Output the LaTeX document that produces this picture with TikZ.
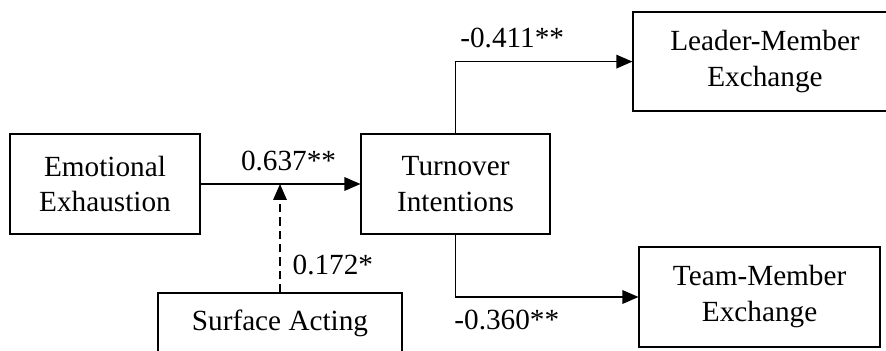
\documentclass[tikz,border=0pt]{standalone}
\usepackage{fontspec}
\setmainfont{Liberation Serif}
\usetikzlibrary{positioning}
\usetikzlibrary{arrows.meta}
\tikzset{
    varnode/.style = {rectangle, draw=black, line width=0.9pt, align=center, inner sep=0pt, minimum height=2.5cm, font=\fontsize{20.8}{25.6}\selectfont},
    coef/.style = {inner sep=0pt, font=\fontsize{20.8}{25.6}\selectfont},
    edgen/.style = {-{Triangle[length=0.4cm,width=0.34cm]}, line width=0.9pt},
    edged/.style = {edgen, dash pattern=on 6pt off 3.5pt}, % moderator
}

\begin{document}
\begin{tikzpicture}
\useasboundingbox (0,0) rectangle (22.15,8.75);
\clip (0,0) rectangle (22.15,8.75);
%
\node[varnode, minimum width=4.75cm] at (2.625, 4.15) (ee) {Emotional\\Exhaustion};
\node[varnode, minimum width=4.725cm] at (11.39, 4.15) (ti) {Turnover\\Intentions};
\node[varnode, minimum width=6.6cm, minimum height=2.475cm] at (19.125, 7.21) (lmx) {Leader-Member\\Exchange};
\node[varnode, minimum width=6.025cm] at (18.99, 1.325) (tmx) {Team-Member\\Exchange};
\node[varnode, minimum width=6.1cm, minimum height=1.5cm] at (7.0, 0.675) (sa) {Surface Acting};
\coordinate (mod) at (sa.north |- ee.east);
%
\draw[edgen] (ee) -- node[coef, above=0.32cm, pos=0.55] {0.637**} (ti);
\draw[edged] (sa) -- node[coef, right=0.3cm, pos=0.25] {0.172*} (mod);
\draw[edgen] (ti.north) |- node[coef, above=0.32cm, pos=0.66] {-0.411**} (lmx.west);
\draw[edgen] (ti.south) |- node[coef, below=0.32cm, pos=0.64] {-0.360**} (tmx.west);

\end{tikzpicture}
\end{document}
